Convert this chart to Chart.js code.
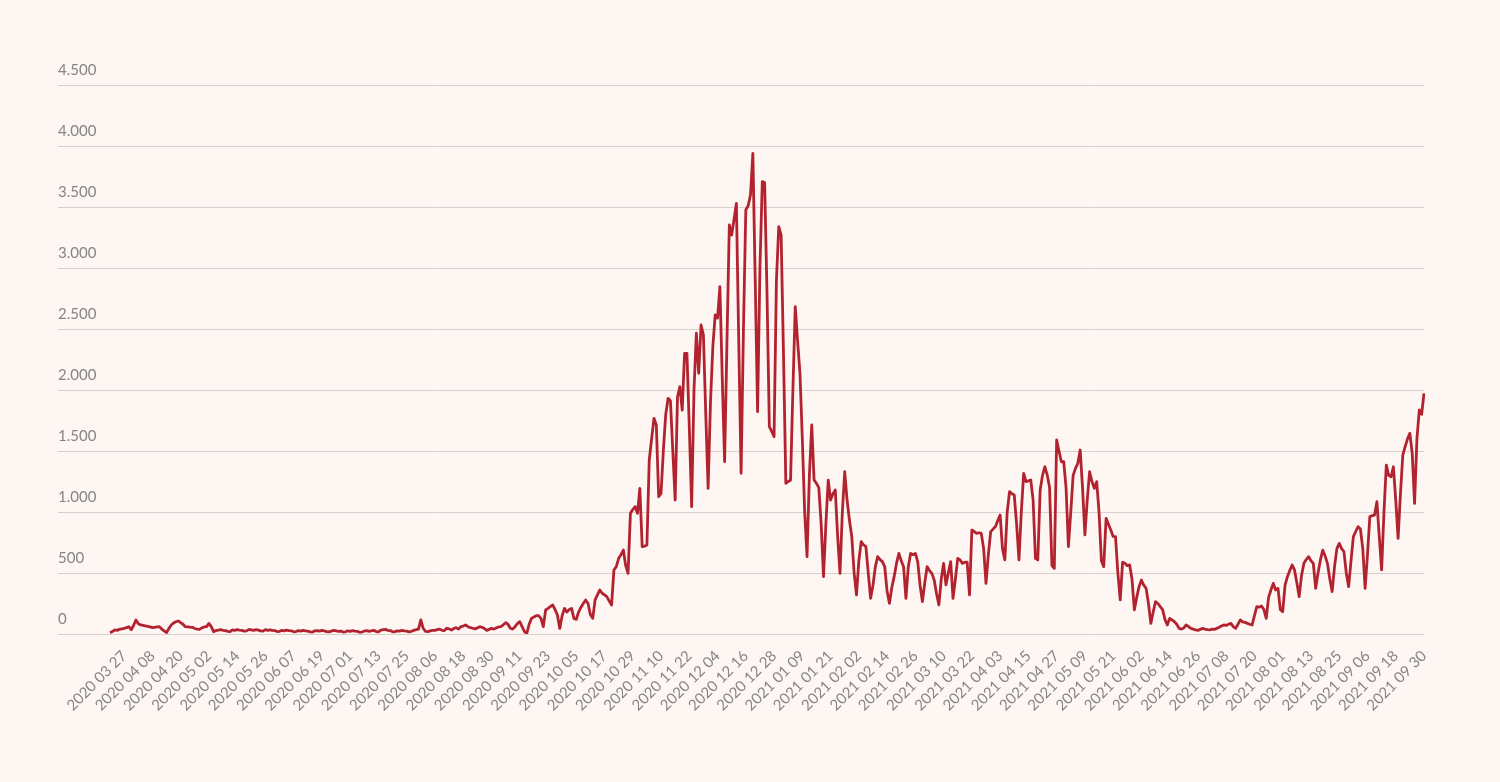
<!DOCTYPE html>
<html>
<head>
<meta charset="utf-8">
<script src="https://cdn.jsdelivr.net/npm/chart.js@4/dist/chart.umd.min.js"></script>
<style>
  html, body { margin: 0; padding: 0; background: #fdf6f3; }
  canvas { display: block; }
</style>
</head>
<body>
<canvas id="chart" width="1500" height="782"></canvas>
<script>
// daily values, one row per week (Sat .. Fri), first day 2020-03-21
const startDate = [2020, 2, 21];
const cases = [
    11, 20, 33, 30, 38, 42, 46,
    52, 60, 35, 70, 115, 85, 74,
    70, 66, 62, 58, 52, 55, 58,
    60, 40, 25, 11, 45, 74, 90,
    100, 107, 93, 80, 60, 58, 56,
    55, 45, 40, 38, 50, 58, 60,
    87, 60, 19, 28, 32, 35, 30,
    28, 22, 20, 34, 30, 36, 32,
    30, 24, 26, 38, 34, 30, 36,
    32, 26, 24, 36, 30, 34, 30,
    28, 20, 22, 30, 26, 32, 28,
    26, 18, 20, 28, 24, 30, 26,
    24, 18, 16, 26, 28, 24, 30,
    26, 20, 18, 24, 30, 26, 22,
    24, 16, 18, 26, 22, 28, 24,
    22, 14, 16, 24, 28, 22, 26,
    30, 20, 18, 32, 36, 38, 30,
    28, 18, 20, 26, 24, 30, 26,
    24, 18, 22, 30, 35, 40, 115,
    47, 22, 19, 25, 30, 30, 35,
    40, 30, 28, 47, 42, 32, 45,
    52, 40, 60, 65, 74, 60, 52,
    47, 42, 50, 60, 55, 45, 30,
    38, 47, 40, 50, 58, 60, 75,
    93, 80, 47, 40, 60, 85, 101,
    60, 20, 5, 80, 128, 140, 150,
    150, 128, 60, 197, 210, 224, 238,
    200, 156, 46, 150, 210, 180, 200,
    210, 128, 120, 180, 220, 250, 279,
    250, 160, 128, 280, 320, 361, 334,
    320, 306, 270, 238, 525, 552, 620,
    650, 688, 560, 497, 989, 1020, 1044,
    989, 1194, 716, 720, 730, 1426, 1600,
    1768, 1713, 1126, 1153, 1508, 1800, 1932,
    1910, 1500, 1098, 1945, 2027, 1836, 2300,
    2300, 1700, 1044, 2000, 2465, 2137, 2533,
    2450, 1800, 1194, 1900, 2355, 2615, 2590,
    2847, 2100, 1413, 2400, 3353, 3270, 3400,
    3530, 2400, 1317, 2500, 3476, 3510, 3600,
    3940, 2900, 1822, 3000, 3708, 3700, 2800,
    1700, 1660, 1618, 2900, 3339, 3270, 2300,
    1235, 1250, 1260, 2000, 2683, 2400, 2137,
    1600, 1000, 634, 1300, 1713, 1262, 1235,
    1200, 900, 470, 900, 1262, 1098, 1150,
    1180, 800, 497, 1000, 1330, 1100, 934,
    798, 500, 320, 600, 757, 730, 716,
    500, 292, 400, 550, 634, 610, 593,
    550, 350, 251, 380, 470, 580, 661,
    600, 552, 292, 550, 661, 650, 661,
    593, 400, 265, 420, 552, 520, 497,
    443, 330, 238, 450, 579, 402, 500,
    593, 292, 450, 620, 607, 579, 588,
    588, 320, 852, 840, 825, 830, 825,
    700, 415, 650, 839, 860, 880, 930,
    975, 700, 607, 1000, 1167, 1150, 1139,
    900, 607, 1000, 1317, 1249, 1255, 1262,
    1100, 620, 607, 1180, 1300, 1371, 1303,
    1200, 560, 538, 1590, 1500, 1412, 1412,
    1200, 716, 1000, 1300, 1358, 1399, 1508,
    1200, 812, 1100, 1330, 1250, 1194, 1249,
    1000, 600, 552, 948, 900, 852, 800,
    798, 500, 279, 588, 580, 560, 566,
    450, 197, 300, 388, 443, 400, 374,
    250, 87, 180, 265, 250, 224, 200,
    120, 74, 128, 115, 101, 80, 46,
    40, 50, 74, 60, 46, 40, 33,
    30, 38, 46, 40, 35, 33, 40,
    38, 46, 55, 65, 74, 70, 80,
    87, 60, 46, 80, 115, 100, 95,
    87, 80, 74, 150, 224, 220, 230,
    200, 128, 300, 361, 415, 361, 374,
    200, 183, 400, 470, 520, 566, 525,
    420, 306, 480, 579, 610, 634, 600,
    579, 374, 500, 607, 688, 640, 579,
    450, 347, 550, 700, 743, 700, 675,
    500, 388, 600, 798, 840, 880, 860,
    700, 374, 650, 962, 970, 975, 1085,
    800, 525, 1000, 1385, 1300, 1289, 1371,
    1100, 784, 1150, 1467, 1535, 1600, 1645,
    1481, 1071, 1600, 1836, 1800, 1973
];

// the dates written under the axis
const tickLabels = [
    "2020 03 27", "2020 04 08", "2020 04 20", "2020 05 02", "2020 05 14", "2020 05 26",
    "2020 06 07", "2020 06 19", "2020 07 01", "2020 07 13", "2020 07 25", "2020 08 06",
    "2020 08 18", "2020 08 30", "2020 09 11", "2020 09 23", "2020 10 05", "2020 10 17",
    "2020 10 29", "2020 11 10", "2020 11 22", "2020 12 04", "2020 12 16", "2020 12 28",
    "2021 01 09", "2021 01 21", "2021 02 02", "2021 02 14", "2021 02 26", "2021 03 10",
    "2021 03 22", "2021 04 03", "2021 04 15", "2021 04 27", "2021 05 09", "2021 05 21",
    "2021 06 02", "2021 06 14", "2021 06 26", "2021 07 08", "2021 07 20", "2021 08 01",
    "2021 08 13", "2021 08 25", "2021 09 06", "2021 09 18", "2021 09 30"
];

const yTicks = [0, 500, 1000, 1500, 2000, 2500, 3000, 3500, 4000, 4500];

function pad(n) {
    return (n < 10 ? "0" : "") + n;
}

// one label per day
let labels = cases.map((v, i) => {
    let d = new Date(Date.UTC(startDate[0], startDate[1], startDate[2] + i));
    return d.getUTCFullYear() + " " + pad(d.getUTCMonth() + 1) + " " + pad(d.getUTCDate());
});

function formatNumber(v) {
    return v >= 1000 ? Math.floor(v / 1000) + "." + String(v % 1000).padStart(3, "0") : String(v);
}

const ctx = document.getElementById("chart").getContext("2d");
new Chart(ctx, {
    type: "line",
    data: {
        labels: labels,
        datasets: [{
            data: cases,
            borderColor: "#b3232f",
            borderWidth: 2.8,
            pointRadius: 0,
            tension: 0,
            borderJoinStyle: "round",
            fill: false
        }]
    },
    options: {
        responsive: false,
        animation: false,
        layout: {
            padding: { left: 58, right: 76, top: 85, bottom: 40 }
        },
        plugins: {
            legend: { display: false },
            tooltip: { enabled: false }
        },
        scales: {
            x: {
                offset: false,
                grid: { display: false },
                border: { display: false },
                ticks: {
                    autoSkip: false,
                    minRotation: 45,
                    maxRotation: 45,
                    padding: 5,
                    color: "#858585",
                    font: { family: "Lato", size: 15 },
                    callback: function(value, index) {
                        let l = labels[index];
                        return tickLabels.includes(l) ? l : null;
                    }
                },
                afterFit: function(scale) {
                    scale.height = 108;
                }
            },
            y: {
                min: 0,
                max: 4500,
                border: { display: false },
                grid: {
                    color: "#d6d0ce",
                    lineWidth: 1,
                    drawTicks: true,
                    tickLength: 52,
                    tickColor: "#d6d0ce"
                },
                afterBuildTicks: function(scale) {
                    scale.ticks = yTicks.map(v => ({ value: v }));
                },
                afterFit: function(scale) {
                    scale.width = 52;
                },
                ticks: {
                    crossAlign: "far",
                    labelOffset: -15,
                    color: "#858585",
                    font: { family: "Lato", size: 15 },
                    callback: function(value) {
                        return formatNumber(value);
                    }
                }
            }
        }
    }
});
</script>
</body>
</html>
